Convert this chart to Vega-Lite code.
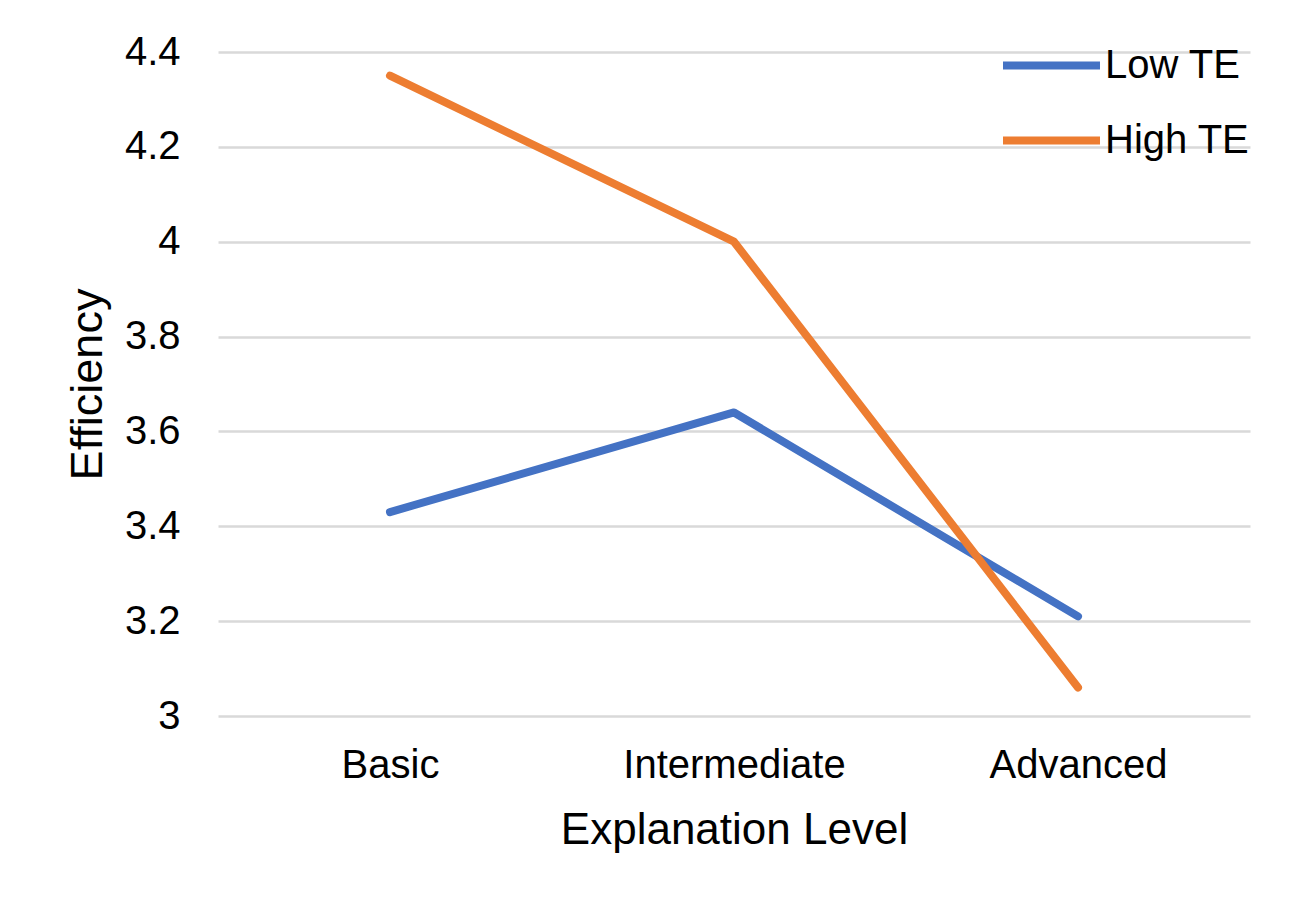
{
  "$schema": "https://vega.github.io/schema/vega-lite/v6.json",
  "width": 1032,
  "height": 664,
  "autosize": {"type": "none"},
  "padding": {"left": 218, "top": 52, "right": 52, "bottom": 196},
  "background": "white",
  "config": {
    "font": "Liberation Sans",
    "view": {"stroke": null}
  },
  "data": {
    "values": [
      {"level": "Basic", "group": "Low TE", "efficiency": 3.43},
      {"level": "Intermediate", "group": "Low TE", "efficiency": 3.64},
      {"level": "Advanced", "group": "Low TE", "efficiency": 3.21},
      {"level": "Basic", "group": "High TE", "efficiency": 4.35},
      {"level": "Intermediate", "group": "High TE", "efficiency": 4.0},
      {"level": "Advanced", "group": "High TE", "efficiency": 3.06}
    ]
  },
  "mark": {"type": "line", "strokeWidth": 8, "strokeCap": "round", "strokeJoin": "round"},
  "encoding": {
    "x": {
      "field": "level",
      "type": "nominal",
      "sort": ["Basic", "Intermediate", "Advanced"],
      "scale": {"type": "point", "padding": 0.5},
      "axis": {
        "title": "Explanation Level",
        "labelAngle": 0,
        "labelLimit": 0,
        "labelFontSize": 40,
        "labelColor": "#000000",
        "labelPadding": 29,
        "titleFontSize": 44,
        "titleFontWeight": "normal",
        "titleColor": "#000000",
        "titlePadding": 23,
        "domain": false,
        "ticks": false,
        "grid": false
      }
    },
    "y": {
      "field": "efficiency",
      "type": "quantitative",
      "scale": {"domain": [3, 4.4], "nice": false, "zero": false},
      "axis": {
        "title": "Efficiency",
        "values": [3, 3.2, 3.4, 3.6, 3.8, 4, 4.2, 4.4],
        "format": "~g",
        "labelFontSize": 40,
        "labelColor": "#000000",
        "labelPadding": 38,
        "titleFontSize": 45,
        "titleFontWeight": "normal",
        "titleColor": "#000000",
        "titlePadding": 14,
        "domain": false,
        "ticks": false,
        "grid": true,
        "gridColor": "#d9d9d9",
        "gridWidth": 2.5
      }
    },
    "color": {
      "field": "group",
      "type": "nominal",
      "scale": {"domain": ["Low TE", "High TE"], "range": ["#4472C4", "#ED7D31"]},
      "legend": {
        "title": null,
        "orient": "none",
        "legendX": 781,
        "legendY": -39,
        "symbolType": "stroke",
        "symbolSize": 9409,
        "symbolStrokeWidth": 8,
        "labelFontSize": 40,
        "labelColor": "#000000",
        "labelOffset": 1,
        "rowPadding": 2
      }
    }
  }
}
